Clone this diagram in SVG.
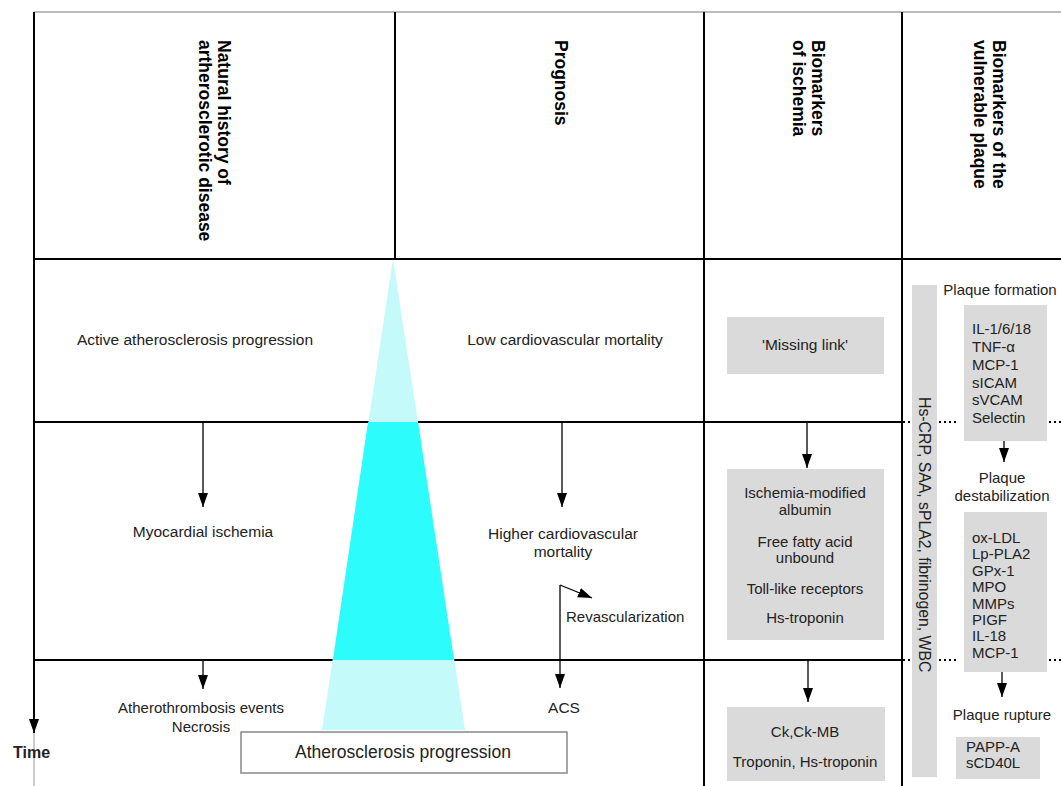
<svg xmlns="http://www.w3.org/2000/svg" width="1061" height="786" viewBox="0 0 1061 786">
<defs>
<marker id="ah" viewBox="0 0 14 10" refX="14" refY="5" markerWidth="14" markerHeight="10" orient="auto" markerUnits="userSpaceOnUse"><path d="M0,0 L14,5 L0,10 z" fill="#000"/></marker>
<style>
.grid{stroke:#000;stroke-width:2;fill:none}
.dot{stroke:#000;stroke-width:2;stroke-dasharray:2 3;fill:none}
.arr{stroke:#000;stroke-width:1.3;fill:none;marker-end:url(#ah)}
.hd{font-family:"Liberation Sans",Arial,sans-serif;font-weight:bold;font-size:17.5px;fill:#000}
.t{font-family:"Liberation Sans",Arial,sans-serif;font-size:15.5px;fill:#222;text-anchor:middle}
.t2{font-family:"Liberation Sans",Arial,sans-serif;font-size:15px;fill:#222;text-anchor:middle}
.tl{font-family:"Liberation Sans",Arial,sans-serif;font-size:15px;fill:#222}
.s{font-family:"Liberation Sans",Arial,sans-serif;font-size:15px;fill:#222;text-anchor:middle}
.box{fill:#dadada}
</style>
</defs>
<rect width="1061" height="786" fill="#fff"/>
<g id="table">
<line x1="34" y1="12" x2="1061" y2="12" stroke="#bbb" stroke-width="2"/>
<line class="grid" x1="395" y1="12" x2="395" y2="259"/>
<line class="grid" x1="704" y1="12" x2="704" y2="786"/>
<line class="grid" x1="902" y1="12" x2="902" y2="786"/>
<line class="grid" x1="34" y1="259" x2="1061" y2="259"/>
<line class="grid" x1="34" y1="422" x2="902" y2="422"/>
<line class="grid" x1="34" y1="660" x2="902" y2="660"/>
<line class="dot" x1="903" y1="422" x2="912" y2="422"/>
<line class="dot" x1="939" y1="422" x2="959" y2="422"/>
<line class="dot" x1="1049" y1="422" x2="1061" y2="422"/>
<line class="dot" x1="903" y1="660" x2="912" y2="660"/>
<line class="dot" x1="939" y1="660" x2="959" y2="660"/>
<line class="dot" x1="1049" y1="660" x2="1061" y2="660"/>
</g>
<g id="time-axis">
<line x1="34" y1="733" x2="34" y2="786" stroke="#bbb" stroke-width="1.5"/>
<line x1="34" y1="12" x2="34" y2="733" stroke="#000" stroke-width="2" marker-end="url(#ah)"/>
<text x="13" y="758" font-family="Liberation Sans, Arial, sans-serif" font-weight="bold" font-size="16" fill="#222">Time</text>
</g>
<g id="triangle">
<polygon points="393,259 322,730 465,730" fill="#c4fafa"/>
<polygon points="368,422 418,422 454,660 333,660" fill="#2cfcfc"/>
</g>
<g id="headers">
<text class="hd" transform="translate(218,40) rotate(90)"><tspan x="0" y="0">Natural history of</tspan><tspan x="0" y="19">artherosclerotic disease</tspan></text>
<text class="hd" transform="translate(555,40) rotate(90)">Prognosis</text>
<text class="hd" transform="translate(812,40) rotate(90)"><tspan x="0" y="0">Biomarkers</tspan><tspan x="0" y="19">of ischemia</tspan></text>
<text class="hd" transform="translate(993,40) rotate(90)"><tspan x="0" y="0">Biomarkers of the</tspan><tspan x="0" y="19">vulnerable plaque</tspan></text>
</g>
<g id="n-active"><text class="t" x="195" y="345">Active atherosclerosis progression</text></g>
<g id="n-lowmort"><text class="t" x="565" y="345">Low cardiovascular mortality</text></g>
<g id="n-missing"><rect class="box" x="727" y="317" width="157" height="57"/><text class="t" x="805" y="350">'Missing link'</text></g>
<g id="n-myo"><text class="t" x="203" y="537">Myocardial ischemia</text></g>
<g id="n-highmort"><text class="t" x="563" y="539">Higher cardiovascular</text><text class="t" x="563" y="557">mortality</text></g>
<g id="n-revasc"><text class="tl" x="566" y="622">Revascularization</text></g>
<g id="n-athero"><text class="t2" x="201" y="713">Atherothrombosis events</text><text class="t2" x="201" y="732">Necrosis</text></g>
<g id="n-acs"><text class="t" x="564" y="713">ACS</text></g>
<g id="n-progression"><rect x="241" y="732" width="326" height="41" fill="#fff" stroke="#888" stroke-width="1.5"/><text x="403" y="758" font-family="Liberation Sans, Arial, sans-serif" font-size="17.5" fill="#222" text-anchor="middle">Atherosclerosis progression</text></g>
<g id="n-ischbox"><rect class="box" x="727" y="469" width="157" height="171"/>
<text class="s" x="805" y="498">Ischemia-modified</text><text class="s" x="805" y="515">albumin</text>
<text class="s" x="805" y="547">Free fatty acid</text><text class="s" x="805" y="563">unbound</text>
<text class="s" x="805" y="594">Toll-like receptors</text><text class="s" x="805" y="623">Hs-troponin</text></g>
<g id="n-ckbox"><rect class="box" x="727" y="707" width="158" height="74"/>
<text class="s" x="805" y="737">Ck,Ck-MB</text><text class="s" x="805" y="767">Troponin, Hs-troponin</text></g>
<g id="n-hscrp"><rect class="box" x="912" y="285" width="25" height="492"/>
<text transform="translate(919,397) rotate(90)" font-family="Liberation Sans, Arial, sans-serif" font-size="15.8" fill="#222">Hs-CRP, SAA, sPLA2, fibrinogen, WBC</text></g>
<g id="n-formation"><text class="t2" x="1000" y="295">Plaque formation</text></g>
<g id="n-box1"><rect class="box" x="964" y="305" width="83" height="136"/>
<text class="tl" x="972" y="334">IL-1/6/18</text><text class="tl" x="972" y="352">TNF-α</text><text class="tl" x="972" y="370">MCP-1</text><text class="tl" x="972" y="388">sICAM</text><text class="tl" x="972" y="405">sVCAM</text><text class="tl" x="972" y="423">Selectin</text></g>
<g id="n-destab"><text class="t2" x="1002" y="483">Plaque</text><text class="t2" x="1002" y="501">destabilization</text></g>
<g id="n-box2"><rect class="box" x="964" y="512" width="83" height="160"/>
<text class="tl" x="972" y="543">ox-LDL</text><text class="tl" x="972" y="559.4">Lp-PLA2</text><text class="tl" x="972" y="575.8">GPx-1</text><text class="tl" x="972" y="592.2">MPO</text><text class="tl" x="972" y="608.6">MMPs</text><text class="tl" x="972" y="625">PIGF</text><text class="tl" x="972" y="641.4">IL-18</text><text class="tl" x="972" y="657.8">MCP-1</text></g>
<g id="n-rupture"><text class="t2" x="1002" y="720">Plaque rupture</text></g>
<g id="n-box3"><rect class="box" x="956" y="737" width="84" height="42"/>
<text class="tl" x="966" y="752">PAPP-A</text><text class="tl" x="966" y="768">sCD40L</text></g>
<g id="connectors">
<line class="arr" x1="203" y1="422" x2="203" y2="507"/>
<line class="arr" x1="562" y1="422" x2="562" y2="507"/>
<line class="arr" x1="807" y1="422" x2="807" y2="468"/>
<line class="arr" x1="1004" y1="441" x2="1004" y2="462"/>
<line class="arr" x1="203" y1="660" x2="203" y2="689"/>
<line class="arr" x1="560" y1="585" x2="560" y2="688"/>
<line class="arr" x1="560" y1="585" x2="592" y2="598"/>
<line class="arr" x1="808" y1="660" x2="808" y2="702"/>
<line class="arr" x1="1002" y1="672" x2="1002" y2="697"/>
</g>
</svg>
